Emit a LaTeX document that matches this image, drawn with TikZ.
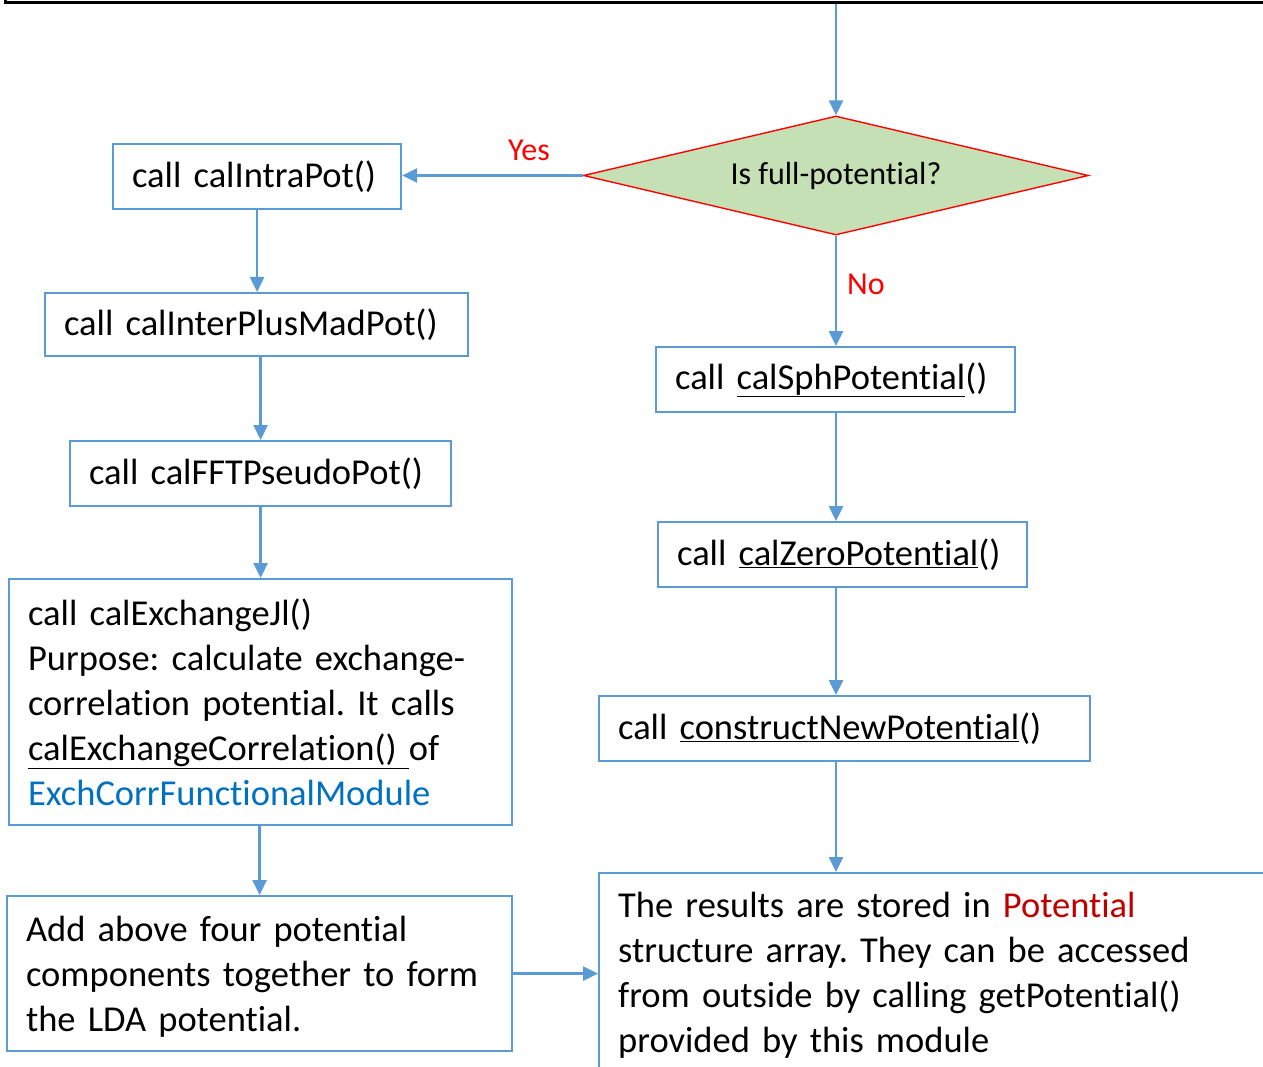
\documentclass[tikz,border=0pt]{standalone}
\usepackage{fontspec}
\setmainfont{Carlito}[Ligatures=NoCommon]
\usetikzlibrary{arrows.meta,shapes.geometric}
\definecolor{lblue}{HTML}{5B9BD5}
\definecolor{dgreen}{HTML}{C5E0B4}
\definecolor{mblue}{HTML}{0070C0}
\definecolor{dred}{HTML}{C00000}
\frenchspacing
\begin{document}
\begin{tikzpicture}[x=1pt,y=-1pt,
  box/.style={draw=lblue,line width=2.2pt,rectangle,anchor=north west,inner xsep=19pt,inner ysep=0pt,align=left,font=\fontsize{36.5}{45}\selectfont},
  conn/.style={draw=lblue,line width=2.6pt,-{Triangle[length=15pt,width=14pt]}},
  lab/.style={text=red,font=\fontsize{32}{38}\selectfont,inner sep=0pt}]
\useasboundingbox (0,0) rectangle (1263,1067);
\clip (0,0) rectangle (1263,1067);

\node[draw=black,line width=2.6pt,anchor=south west,minimum width=1320pt,minimum height=100pt,inner sep=0pt] (top) at (4,4) {};

\node[diamond,aspect=4.244,draw=red,fill=dgreen,line width=1.4pt,minimum width=505pt,minimum height=119pt,inner sep=0pt,font=\fontsize{32}{38}\selectfont] (dia) at (836,175.5) {Is full-potential?};

\node[box,text width=250pt,minimum height=65pt] (b1) at (112,143) {call calIntraPot()};
\node[box,text width=385pt,minimum height=63pt] (b2) at (44,292) {call calInterPlusMadPot()};
\node[box,text width=343pt,minimum height=65pt] (b3) at (69,440) {call calFFTPseudoPot()};
\node[box,text width=465pt,minimum height=246pt] (b4) at (8,578) {call calExchangeJl()\\Purpose: calculate exchange-\\correlation potential. It calls\\\underline{calExchangeCorrelation()\ }of\\{\color{mblue}ExchCorrFunctionalModule}};
\node[box,text width=467pt,minimum height=155pt] (b5) at (6,895) {\rule{0pt}{32pt}Add above four potential\\components together to form\\the LDA potential.};

\node[box,text width=321pt,minimum height=65pt] (b7) at (655,346) {call \underline{calSphPotential}()};
\node[box,text width=331pt,minimum height=65pt] (b8) at (657,521) {call \underline{calZeroPotential}()};
\node[box,text width=453pt,minimum height=65pt] (b9) at (598,695) {call \underline{constructNewPotential}()};

\node[draw=lblue,line width=2.2pt,rectangle,anchor=north west,minimum width=720pt,minimum height=260pt,inner sep=0pt] (res) at (598,872) {};
\node[anchor=north west,inner sep=0pt,align=left,text width=640pt,font=\fontsize{36.5}{45}\selectfont] (restxt) at (618,892) {The results are stored in {\color{dred}Potential}\\structure array. They can be accessed\\from outside by calling getPotential()\\provided by this module};

\draw[conn] (top.south -| dia.north) -- (dia.north);
\draw[conn] (dia.west) -- (dia.west -| b1.east);
\node[lab] (yes) at (529,150) {Yes};
\draw[conn] (dia.south) -- (dia.south |- b7.north);
\node[lab] (no) at (866,284) {No};
\draw[conn] (b1.south) -- (b1.south |- b2.north);
\draw[conn] (b3.north |- b2.south) -- (b3.north);
\draw[conn] (b3.south) -- (b4.north);
\draw[conn] (b5.north |- b4.south) -- (b5.north);
\draw[conn] (b5.east) -- (b5.east -| res.west);
\draw[conn] (b7.south -| dia.south) -- (b8.north -| dia.south);
\draw[conn] (b8.south -| dia.south) -- (b9.north -| dia.south);
\draw[conn] (b9.south -| dia.south) -- (res.north -| dia.south);
\end{tikzpicture}
\end{document}
